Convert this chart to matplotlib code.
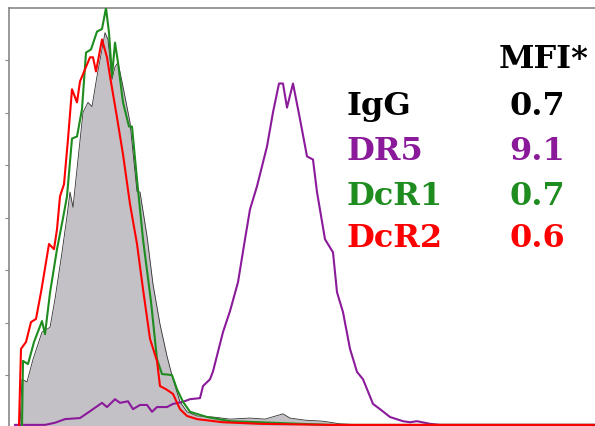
import matplotlib
matplotlib.use("Agg")
import matplotlib.pyplot as plt

# Fluorescence channel (x) and cell counts (y)
igg_x = [11, 13, 18, 24, 33, 41, 46, 53, 58, 61, 64, 69, 74, 79, 83, 88, 93, 96, 99, 103,
         106, 109, 114, 121, 128, 131, 138, 144, 151, 158, 164, 171, 178, 188, 204, 221,
         241, 256, 274, 281, 296, 314, 331, 351, 586]
igg_y = [0.03, 0.92, 0.87, 1.30, 1.82, 1.91, 2.45, 3.34, 4.03, 4.49, 4.20, 5.11, 6.01, 6.20,
         6.12, 6.70, 7.21, 7.53, 7.40, 6.64, 6.88, 6.96, 6.50, 5.82, 4.50, 4.49, 3.65, 2.73,
         1.97, 1.36, 0.92, 0.49, 0.30, 0.22, 0.20, 0.16, 0.18, 0.16, 0.26, 0.18, 0.14, 0.12,
         0.07, 0.05, 0.05]

dr5_x = [6, 36, 46, 56, 71, 81, 93, 98, 106, 111, 119, 124, 131, 138, 143, 148, 158, 164,
         174, 181, 191, 194, 201, 204, 214, 221, 229, 236, 241, 248, 258, 264, 270, 274,
         278, 284, 291, 298, 304, 308, 316, 324, 328, 334, 341, 348, 354, 364, 371, 381,
         394, 401, 408, 421, 431, 586]
dr5_y = [0.05, 0.05, 0.09, 0.16, 0.18, 0.31, 0.47, 0.39, 0.54, 0.47, 0.50, 0.35, 0.43, 0.43,
         0.30, 0.39, 0.39, 0.45, 0.49, 0.54, 0.56, 0.79, 0.92, 1.07, 1.82, 2.22, 2.77, 3.59,
         4.16, 4.60, 5.36, 6.01, 6.56, 6.56, 6.10, 6.56, 5.88, 5.17, 5.11, 4.49, 3.59, 3.34,
         2.58, 2.20, 1.50, 1.06, 0.92, 0.45, 0.35, 0.20, 0.12, 0.10, 0.12, 0.07, 0.05, 0.05]

dcr1_x = [13, 14, 19, 25, 33, 36, 41, 48, 54, 58, 63, 68, 73, 77, 82, 88, 93, 97, 100, 103,
          106, 109, 114, 120, 123, 128, 134, 142, 148, 153, 163, 168, 174, 181, 198, 221,
          251, 291, 321, 586]
dcr1_y = [0.03, 1.27, 1.21, 1.63, 2.03, 1.78, 2.57, 3.40, 3.99, 4.41, 5.51, 5.55, 6.07, 7.15,
          7.21, 7.55, 7.60, 8.00, 7.53, 6.70, 7.34, 6.96, 6.20, 5.74, 5.74, 4.73, 3.59, 2.40,
          1.30, 1.02, 1.00, 0.73, 0.49, 0.30, 0.20, 0.12, 0.10, 0.07, 0.05, 0.05]

dcr2_x = [10, 12, 17, 22, 27, 32, 35, 40, 45, 48, 51, 55, 59, 63, 68, 71, 76, 81, 84, 87, 93,
          98, 101, 108, 114, 121, 128, 134, 141, 148, 151, 157, 164, 171, 178, 188, 214, 251,
          320, 586]
dcr2_y = [0.05, 1.50, 1.63, 2.01, 2.07, 2.58, 2.92, 3.50, 3.40, 3.78, 4.41, 4.64, 5.50, 6.45,
          6.20, 6.60, 6.83, 7.06, 7.06, 6.79, 7.40, 7.06, 6.70, 5.91, 5.21, 4.26, 3.50, 2.64,
          1.69, 1.27, 0.79, 0.73, 0.64, 0.35, 0.22, 0.16, 0.10, 0.07, 0.05, 0.05]

labels = ["IgG", "DR5", "DcR1", "DcR2"]
mfi = ["0.7", "9.1", "0.7", "0.6"]
colors = ["#000000", "#8b1a9b", "#1e8c1e", "#ff0000"]

W, H = 595, 427
fig = plt.figure(figsize=(W / 100, H / 100), dpi=100)
ax = fig.add_axes([9 / W, -1.5 / H, (W - 9) / W, (H - 9 + 1.5) / H])

ax.fill_between(igg_x, igg_y, 0, color="#c3c1c6", lw=0, zorder=1)
ax.plot(igg_x, igg_y, color="#333333", lw=0.6, zorder=2)
ax.plot(dr5_x, dr5_y, color=colors[1], lw=1.5, zorder=3)
ax.plot(dcr1_x, dcr1_y, color=colors[2], lw=1.5, zorder=4)
ax.plot(dcr2_x, dcr2_y, color=colors[3], lw=1.5, zorder=5)

ax.set_xlim(0, 586)
ax.set_ylim(0, 8)
ax.set_yticks(range(1, 8))
ax.set_yticklabels([])
ax.set_xticks([])
ax.tick_params(axis="y", direction="out", length=3, width=0.8, color="#888888")
for s in ["right", "bottom"]:
    ax.spines[s].set_visible(False)
for s in ["left", "top"]:
    ax.spines[s].set_color("#888888")
    ax.spines[s].set_linewidth(1.2)

font = dict(family=["DejaVu Serif"], fontweight="bold", fontsize=23)
fig.text(588 / W, 1 - 68 / H, "MFI*", ha="right", va="baseline", color="#000000", **font)
baselines = [115, 160, 205, 247]
for lab, val, col, b in zip(labels, mfi, colors, baselines):
    fig.text(347 / W, 1 - b / H, lab, ha="left", va="baseline", color=col, **font)
    fig.text(565 / W, 1 - b / H, val, ha="right", va="baseline", color=col, **font)

fig.savefig("out.png", dpi=100)
